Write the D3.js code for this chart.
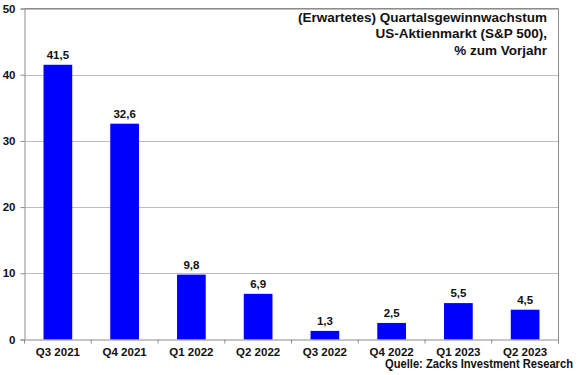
<!DOCTYPE html>
<html><head><meta charset="utf-8">
<script src="https://cdn.jsdelivr.net/npm/d3@7"></script>
<style>body{margin:0;background:#fff}svg{display:block;font-family:"Liberation Sans",Arial,sans-serif}</style>
</head><body>
<svg id="c" width="580" height="375"></svg>
<script>
// quarterly earnings growth, % y/y
const quarters = ['Q3 2021','Q4 2021','Q1 2022','Q2 2022','Q3 2022','Q4 2022','Q1 2023','Q2 2023'];
const growth = [41.5, 32.6, 9.8, 6.9, 1.3, 2.5, 5.5, 4.5];
const yTicks = [0, 10, 20, 30, 40, 50];
const titleLines = ['(Erwartetes) Quartalsgewinnwachstum', 'US-Aktienmarkt (S&P 500),', '% zum Vorjahr'];

const svg = d3.select('#c');
const L = 24.5, R = 558.5, T = 8.5, B = 339.5;
const x = d3.scaleBand().domain(quarters).range([L, R]).paddingInner(0.57).paddingOuter(0.285);
const y = d3.scaleLinear().domain([0, 50]).range([B, T]);
const fmt = v => v.toFixed(1).replace('.', ',');

// grid
svg.append('g').selectAll('line').data(yTicks.filter(t => t > 0)).join('line')
  .attr('x1', L).attr('x2', R).attr('y1', d => Math.round(y(d)) + .5).attr('y2', d => Math.round(y(d)) + .5)
  .attr('stroke', '#bdbdbd');
svg.append('line').attr('x1', R).attr('x2', R).attr('y1', T).attr('y2', B).attr('stroke', '#8c8c8c');
svg.append('line').attr('x1', L).attr('x2', R).attr('y1', T).attr('y2', T).attr('stroke', '#8c8c8c');

// bars
svg.append('g').selectAll('rect').data(growth).join('rect')
  .attr('x', (d, i) => x(quarters[i])).attr('width', x.bandwidth())
  .attr('y', d => y(d)).attr('height', d => y(0) - y(d))
  .attr('fill', '#0000ff');

svg.append('g').selectAll('text').data(growth).join('text')
  .attr('x', (d, i) => x(quarters[i]) + x.bandwidth() / 2).attr('y', d => y(d) - 6)
  .attr('text-anchor', 'middle').attr('font-size', 11.5).attr('font-weight', 'bold').attr('fill', '#111')
  .text(fmt);

// y axis
const ya = svg.append('g').attr('transform', `translate(${L},0)`)
  .call(d3.axisLeft(y).tickValues(yTicks).tickSize(4).tickPadding(5));
ya.select('.domain').attr('stroke', '#8c8c8c');
ya.selectAll('.tick line').attr('stroke', '#8c8c8c');
ya.selectAll('text').attr('font-size', 11.5).attr('font-weight', 'bold').attr('fill', '#111')
  .attr('font-family', '"Liberation Sans",Arial,sans-serif');

// x axis
const xa = svg.append('g').attr('transform', `translate(0,${B})`)
  .call(d3.axisBottom(x).tickSize(0).tickPadding(8));
xa.select('.domain').attr('stroke', '#8c8c8c');
xa.selectAll('text').attr('font-size', 11.5).attr('font-weight', 'bold').attr('fill', '#111')
  .attr('font-family', '"Liberation Sans",Arial,sans-serif');
const step = x.step();
xa.append('g').selectAll('line').data(d3.range(quarters.length + 1)).join('line')
  .attr('x1', i => L + i * step).attr('x2', i => L + i * step).attr('y1', 0).attr('y2', 4)
  .attr('stroke', '#8c8c8c');

// title
svg.append('g').selectAll('text').data(titleLines).join('text')
  .attr('x', 547).attr('y', (d, i) => 21.5 + i * 16.5)
  .attr('text-anchor', 'end').attr('font-size', 13.5).attr('font-weight', 'bold').attr('fill', '#111')
  .text(d => d);

svg.append('text').attr('x', 573).attr('y', 368).attr('text-anchor', 'end')
  .attr('font-size', 12).attr('font-weight', 'bold').attr('fill', '#111')
  .attr('textLength', 188).attr('lengthAdjust', 'spacingAndGlyphs')
  .text('Quelle: Zacks Investment Research');
</script>
</body></html>
